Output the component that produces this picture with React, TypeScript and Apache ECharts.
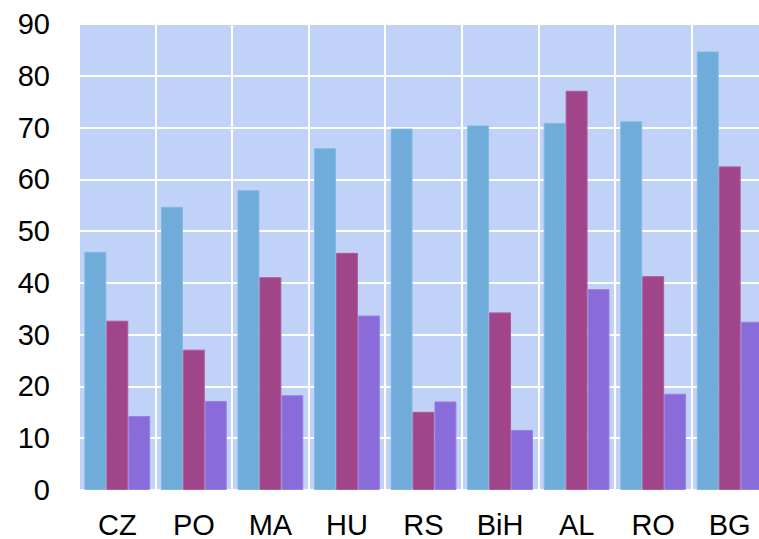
import React, { useEffect, useRef } from "react";
import * as echarts from "echarts";

const categories = ["CZ", "PO", "MA", "HU", "RS", "BiH", "AL", "RO", "BG"];
const seriesA = [46.0, 54.7, 57.9, 66.0, 69.8, 70.4, 70.9, 71.2, 84.7];
const seriesB = [32.7, 27.1, 41.1, 45.8, 15.1, 34.3, 77.1, 41.3, 62.5];
const seriesC = [14.3, 17.2, 18.3, 33.7, 17.1, 11.6, 38.8, 18.6, 32.5];
const colors = ["#6facda", "#a1458a", "#896bd9"];
const borders = ["#84b8e2", "#ad5c99", "#9a82df"];

export default function App() {
  const ref = useRef<HTMLDivElement>(null);
  useEffect(() => {
    const chart = echarts.init(ref.current!, null, { renderer: "svg" });
    const mk = (name: string, data: number[], i: number) => ({
      name,
      type: "bar",
      data,
      barGap: "0%",
      barCategoryGap: "14%",
      itemStyle: { color: colors[i], borderColor: borders[i], borderWidth: 1 },
    });
    const font = "Liberation Sans, Arial, sans-serif";
    chart.setOption({
      animation: false,
      grid: {
        left: 79,
        top: 24,
        right: 0,
        bottom: 49,
        containLabel: false,
        show: true,
        backgroundColor: "#c0d2f8",
        borderWidth: 0,
      },
      xAxis: {
        type: "category",
        data: categories,
        axisLine: { show: false },
        axisTick: { show: false },
        axisLabel: { fontSize: 29, color: "#000", fontFamily: font, margin: 20 },
        splitLine: { show: true, lineStyle: { color: "#ffffff", width: 2 } },
      },
      yAxis: {
        type: "value",
        min: 0,
        max: 90,
        interval: 10,
        axisLine: { show: false },
        axisTick: { show: false },
        axisLabel: { fontSize: 29, color: "#000", fontFamily: font, margin: 29 },
        splitLine: { show: true, lineStyle: { color: "#ffffff", width: 2 } },
      },
      series: [mk("A", seriesA, 0), mk("B", seriesB, 1), mk("C", seriesC, 2)],
    });
    return () => chart.dispose();
  }, []);
  return (
    <div style={{ position: "fixed", left: 0, top: 0, width: 759, height: 539, overflow: "hidden", background: "#fff" }}>
      <div ref={ref} style={{ width: 768, height: 539 }} />
    </div>
  );
}
